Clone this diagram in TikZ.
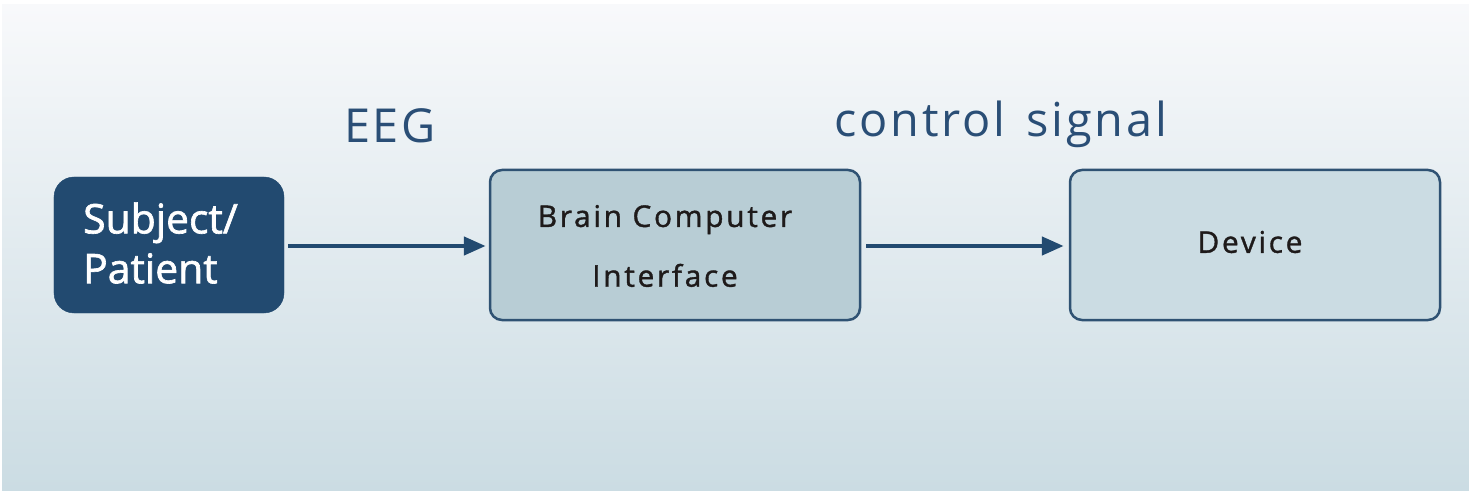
\documentclass[tikz,border=0pt]{standalone}
\usepackage{fontspec}
\setmainfont{Open Sans}
\newfontfamily\lblfont[LetterSpace=6]{Open Sans}
\newfontfamily\boxfont[LetterSpace=9,FakeBold=1.2]{Open Sans}
\newfontfamily\subjfont[FakeBold=1.6]{Open Sans}
\usetikzlibrary{arrows.meta}
\definecolor{navy}{HTML}{224A70}
\definecolor{edge}{HTML}{2F5273}
\definecolor{bcifill}{HTML}{B8CDD5}
\definecolor{devfill}{HTML}{CBDCE3}
\definecolor{bgtop}{HTML}{F8F9FB}
\definecolor{bgbot}{HTML}{CBDCE3}
\definecolor{lbl}{HTML}{2A4E76}
\definecolor{txt}{HTML}{1E1A1A}
\tikzset{
  subjbox/.style={draw=navy, fill=navy, rounded corners=20bp, minimum width=230bp, minimum height=136bp, inner sep=0pt},
  stagebox/.style={draw=edge, line width=2.5bp, rounded corners=12bp, minimum width=370bp, minimum height=150bp, inner sep=0pt},
  flow/.style={draw=navy, line width=4.5bp, -{Triangle[length=22bp,width=18bp]}},
  lbltext/.style={text=lbl, font=\lblfont\fontsize{47}{56}\selectfont, inner sep=0pt},
  boxtext/.style={text=txt, font=\boxfont\fontsize{30}{60}\selectfont, align=center, inner sep=0pt},
}
\begin{document}
\begin{tikzpicture}[x=1bp,y=-1bp]
\useasboundingbox (0,0) rectangle (1469,492);
\shade[top color=bgtop, bottom color=bgbot, draw=none] (2,5) rectangle (1469,490);
\node[subjbox] (subj) at (169,245) {};
\node[stagebox, fill=bcifill] (bci) at (675,245) {};
\node[stagebox, fill=devfill] (dev) at (1255,245) {};
\node[anchor=west, text=white, font=\subjfont\fontsize{41}{50}\selectfont, align=left, inner sep=0pt] (subjtext) at (83,243) {Subject/\\Patient};
\node[boxtext] (bcitext) at (665,246) {Brain Computer\\Interface};
\node[boxtext] (devtext) at (1250,242) {Device};
\node[lbltext] (eeg) at (390,126) {EEG};
\node[lbltext] (ctrl) at (1001,124) {control\hspace{6bp} signal};
\draw[flow] ([xshift=4bp,yshift=-1bp]subj.east) -- ([xshift=-3bp,yshift=-1bp]bci.west);
\draw[flow] ([xshift=5bp,yshift=-1bp]bci.east) -- ([xshift=-5bp,yshift=-1bp]dev.west);
\end{tikzpicture}
\end{document}
